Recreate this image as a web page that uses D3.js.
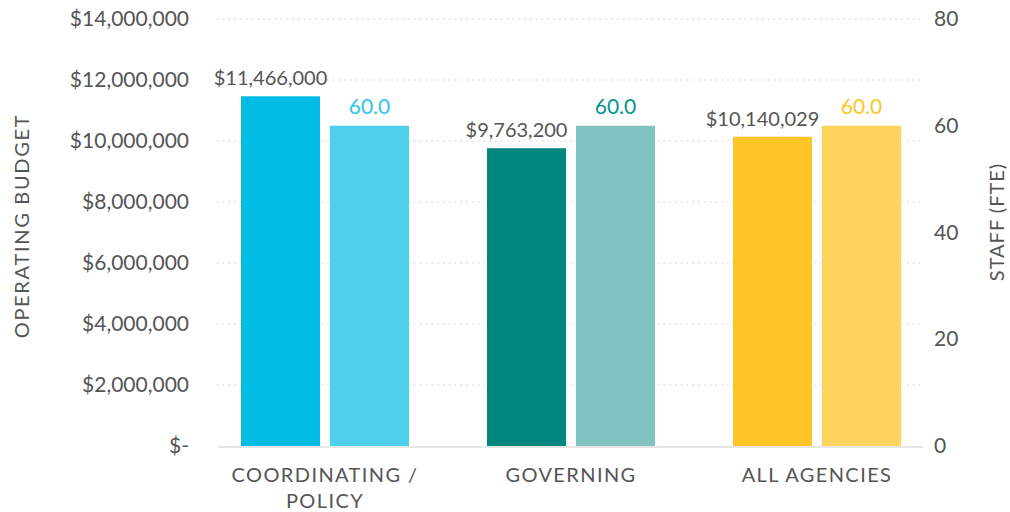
<!DOCTYPE html>
<html>
<head>
<meta charset="utf-8">
<script src="https://cdn.jsdelivr.net/npm/d3@7"></script>
<style>
  html, body { margin: 0; padding: 0; background: #fff; }
  svg { display: block; }
  text { font-family: Lato, "Open Sans", sans-serif; }
</style>
</head>
<body>
<svg id="chart" width="1010" height="512"></svg>
<script>
const categories = ["COORDINATING / POLICY", "GOVERNING", "ALL AGENCIES"];
const categoryLines = [["COORDINATING /", "POLICY"], ["GOVERNING"], ["ALL AGENCIES"]];
const budgetValues = [11466000, 9763200, 10140029];
const budgetLabels = ["$11,466,000", "$9,763,200", "$10,140,029"];
const staffValues = [60.0, 60.0, 60.0];
const staffLabels = ["60.0", "60.0", "60.0"];
const budgetTicks = [0, 2000000, 4000000, 6000000, 8000000, 10000000, 12000000, 14000000];
const budgetTickLabels = ["$-", "$2,000,000", "$4,000,000", "$6,000,000", "$8,000,000", "$10,000,000", "$12,000,000", "$14,000,000"];
const staffTicks = [0, 20, 40, 60, 80];
const budgetColors = ["#00bce4", "#00877e", "#ffc425"];
const staffColors = ["#4dd0ec", "#80c3c0", "#ffd45c"];
const staffLabelColors = ["#2fc6e8", "#00968c", "#ffc425"];

const svg = d3.select("#chart");
const plotTop = 19, plotBottom = 446;
const gridLeft = 217, gridRight = 923;
const textColor = "#555555";

const y = d3.scaleLinear().domain([0, 14000000]).range([plotBottom, plotTop]);
const y2 = d3.scaleLinear().domain([0, 80]).range([plotBottom, plotTop]);
const x = d3.scaleBand().domain(categories).range([202, 940]).paddingInner(0).paddingOuter(0);
const sub = d3.scaleBand().domain(["budget", "staff"]).range([0, x.bandwidth()]).paddingInner(0.112).paddingOuter(0.438);

// gridlines
svg.append("g").selectAll("line").data(budgetTicks.filter(d => d > 0)).join("line")
  .attr("x1", gridLeft).attr("x2", gridRight)
  .attr("y1", d => y(d)).attr("y2", d => y(d))
  .attr("stroke", "#d9d9d9").attr("stroke-width", 1.3)
  .attr("stroke-dasharray", "1.3,4.5");

// left axis
const leftAxis = d3.axisLeft(y).tickValues(budgetTicks)
  .tickFormat((d, i) => budgetTickLabels[i]).tickSize(0).tickPadding(0);
const gl = svg.append("g").attr("transform", "translate(189,0)").call(leftAxis);
gl.select(".domain").remove();
gl.selectAll("text").attr("font-size", 21).attr("fill", textColor)
  .attr("font-family", "Lato, sans-serif");

// right axis
const rightAxis = d3.axisRight(y2).tickValues(staffTicks).tickSize(0).tickPadding(0);
const gr = svg.append("g").attr("transform", "translate(934,0)").call(rightAxis);
gr.select(".domain").remove();
gr.selectAll("text").attr("font-size", 21).attr("fill", textColor)
  .attr("font-family", "Lato, sans-serif");

// bars
const groups = svg.append("g").selectAll("g").data(categories).join("g")
  .attr("transform", d => `translate(${x(d)},0)`);

groups.append("rect")
  .attr("x", sub("budget")).attr("width", sub.bandwidth())
  .attr("y", (d, i) => y(budgetValues[i]))
  .attr("height", (d, i) => plotBottom - y(budgetValues[i]))
  .attr("fill", (d, i) => budgetColors[i]);

groups.append("rect")
  .attr("x", sub("staff")).attr("width", sub.bandwidth())
  .attr("y", (d, i) => y2(staffValues[i]))
  .attr("height", (d, i) => plotBottom - y2(staffValues[i]))
  .attr("fill", (d, i) => staffColors[i]);

groups.append("text")
  .attr("x", sub("budget") + sub.bandwidth() / 2 - 10)
  .attr("y", (d, i) => y(budgetValues[i]) - 11)
  .attr("text-anchor", "middle").attr("font-size", 20).attr("fill", textColor)
  .text((d, i) => budgetLabels[i]);

groups.append("text")
  .attr("x", sub("staff") + sub.bandwidth() / 2)
  .attr("y", (d, i) => y2(staffValues[i]) - 12)
  .attr("text-anchor", "middle").attr("font-size", 21)
  .attr("fill", (d, i) => staffLabelColors[i])
  .text((d, i) => staffLabels[i]);

// baseline
svg.append("line").attr("x1", gridLeft + 1).attr("x2", gridRight)
  .attr("y1", plotBottom + 1).attr("y2", plotBottom + 1)
  .attr("stroke", "#e6e6e6").attr("stroke-width", 2);

// category labels
groups.append("text")
  .attr("x", x.bandwidth() / 2)
  .attr("text-anchor", "middle").attr("font-size", 20).attr("fill", textColor)
  .attr("letter-spacing", 1.4)
  .selectAll("tspan").data((d, i) => categoryLines[i]).join("tspan")
  .attr("x", x.bandwidth() / 2)
  .attr("y", (d, j) => 482 + j * 26)
  .text(d => d);

// axis titles
svg.append("text")
  .attr("transform", `translate(29,226) rotate(-90)`)
  .attr("text-anchor", "middle").attr("font-size", 20).attr("fill", textColor)
  .attr("letter-spacing", 1.7)
  .text("OPERATING BUDGET");

svg.append("text")
  .attr("transform", `translate(1004,222) rotate(-90)`)
  .attr("text-anchor", "middle").attr("font-size", 20).attr("fill", textColor)
  .attr("letter-spacing", 1.0)
  .text("STAFF (FTE)");
</script>
</body>
</html>
